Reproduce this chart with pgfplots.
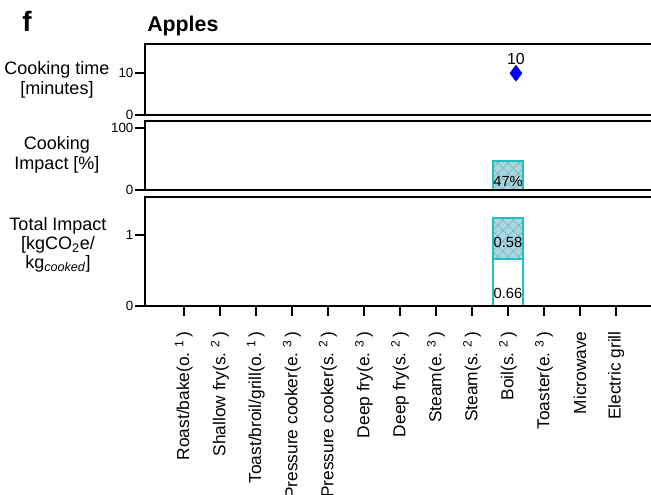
\documentclass[border=0pt]{standalone}
\usepackage{pgfplots}
\pgfplotsset{compat=1.18}
\usepackage{fontspec}
\setmainfont{Liberation Sans}
\usetikzlibrary{patterns.meta}

\definecolor{barline}{HTML}{22BEC0}
\definecolor{barfill}{HTML}{ABD6DF}
\definecolor{hatchcol}{HTML}{6DB3C2}

\newcommand{\lsup}[1]{\hspace{0.3em}\textsuperscript{#1}\hspace{0.15em}}

\pgfplotsset{
  panel/.style={
    scale only axis, width=386.25pt,
    xmin=-1.08, xmax=13.22,
    anchor=south west,
    axis on top,
    axis line style={line width=1.6pt},
    major tick style={line width=1.2pt, black},
    major tick length=7.5pt,
    tick align=outside,
    ytick pos=left, xtick pos=bottom,
    yticklabel style={font=\fontsize{10}{12}\selectfont, inner sep=1pt},
    /pgf/number format/assume math mode=true,
    clip=false,
  },
  hatched/.style={draw=barline, line width=1.3pt, fill=barfill,
    postaction={pattern={Hatch[angle=45,distance=5.5pt,line width=0.4pt]}, pattern color=hatchcol}},
  plain/.style={draw=barline, line width=1.3pt, fill=white},
}

\begin{document}
\begin{tikzpicture}
\useasboundingbox (0,0) rectangle (488.25pt,371.25pt);

% panel letter and title
\node[anchor=base west, font=\bfseries\fontsize{21}{22}\selectfont, inner sep=0] at (16.5pt,347.25pt) {f};
\node[anchor=base west, font=\bfseries\fontsize{16}{17}\selectfont, inner sep=0] at (110.25pt,347.25pt) {Apples};

% y labels
\node[align=center, font=\fontsize{13.5}{14.5}\selectfont] at (42.75pt,311.25pt) {Cooking time\\{[minutes]}};
\node[align=center, font=\fontsize{13.5}{14.5}\selectfont] at (42.75pt,255pt) {Cooking\\Impact [\%]};
\node[align=center, font=\fontsize{13.5}{14.5}\selectfont] at (43.5pt,187.5pt) {Total Impact\\{[kgCO\textsubscript{2}e/}\\kg\textsubscript{\itshape cooked}]};

% cooking time
\begin{axis}[panel, at={(108.75pt,285pt)}, height=53.25pt,
  ymin=0, ymax=17, ytick={0,10}, xtick=\empty]
\addplot[only marks, mark=diamond*, mark size=6pt, blue] coordinates {(9.22,10)};
\node[font=\fontsize{12}{13}\selectfont] at (axis cs:9.22,10) [yshift=10.5pt] {10};
\end{axis}

% cooking impact
\begin{axis}[panel, at={(108.75pt,228.75pt)}, height=51.75pt,
  ymin=0, ymax=111, ytick={0,100}, xtick=\empty,
  ybar, bar width=22.5pt]
\addplot[hatched] coordinates {(0,0) (1,0) (2,0) (3,0) (4,0) (5,0) (6,0) (7,0) (8,0) (9,47) (10,0) (11,0) (12,0)};
\node[font=\fontsize{11}{12}\selectfont] at (axis cs:9,14) {47\%};
\end{axis}

% total impact: total bar (hatched) with the non-cooking part (white) drawn over it
\begin{axis}[panel, at={(108.75pt,141.75pt)}, height=81.75pt,
  ymin=0, ymax=1.535, ytick={0,1},
  ybar, bar width=22.5pt, bar shift=0pt,
  xtick={0,...,12},
  xticklabels={Roast/bake(o.\lsup{1}), Shallow fry(s.\lsup{2}),
    Toast/broil/grill(o.\lsup{1}), Pressure cooker(e.\lsup{3}),
    Pressure cooker(s.\lsup{2}), Deep fry(e.\lsup{3}),
    Deep fry(s.\lsup{2}), Steam(e.\lsup{3}),
    Steam(s.\lsup{2}), Boil(s.\lsup{2}),
    Toaster(e.\lsup{3}), Microwave, Electric grill},
  xticklabel style={rotate=90, anchor=east, xshift=-8pt, font=\fontsize{13}{14}\selectfont}]
\addplot[hatched] coordinates {(0,0) (1,0) (2,0) (3,0) (4,0) (5,0) (6,0) (7,0) (8,0) (9,1.24) (10,0) (11,0) (12,0)};
\addplot[plain] coordinates {(0,0) (1,0) (2,0) (3,0) (4,0) (5,0) (6,0) (7,0) (8,0) (9,0.66) (10,0) (11,0) (12,0)};
\node[font=\fontsize{11}{12}\selectfont] at (axis cs:9,0.18) {0.66};
\node[font=\fontsize{11}{12}\selectfont] at (axis cs:9,0.90) {0.58};
\end{axis}
\end{tikzpicture}
\end{document}
